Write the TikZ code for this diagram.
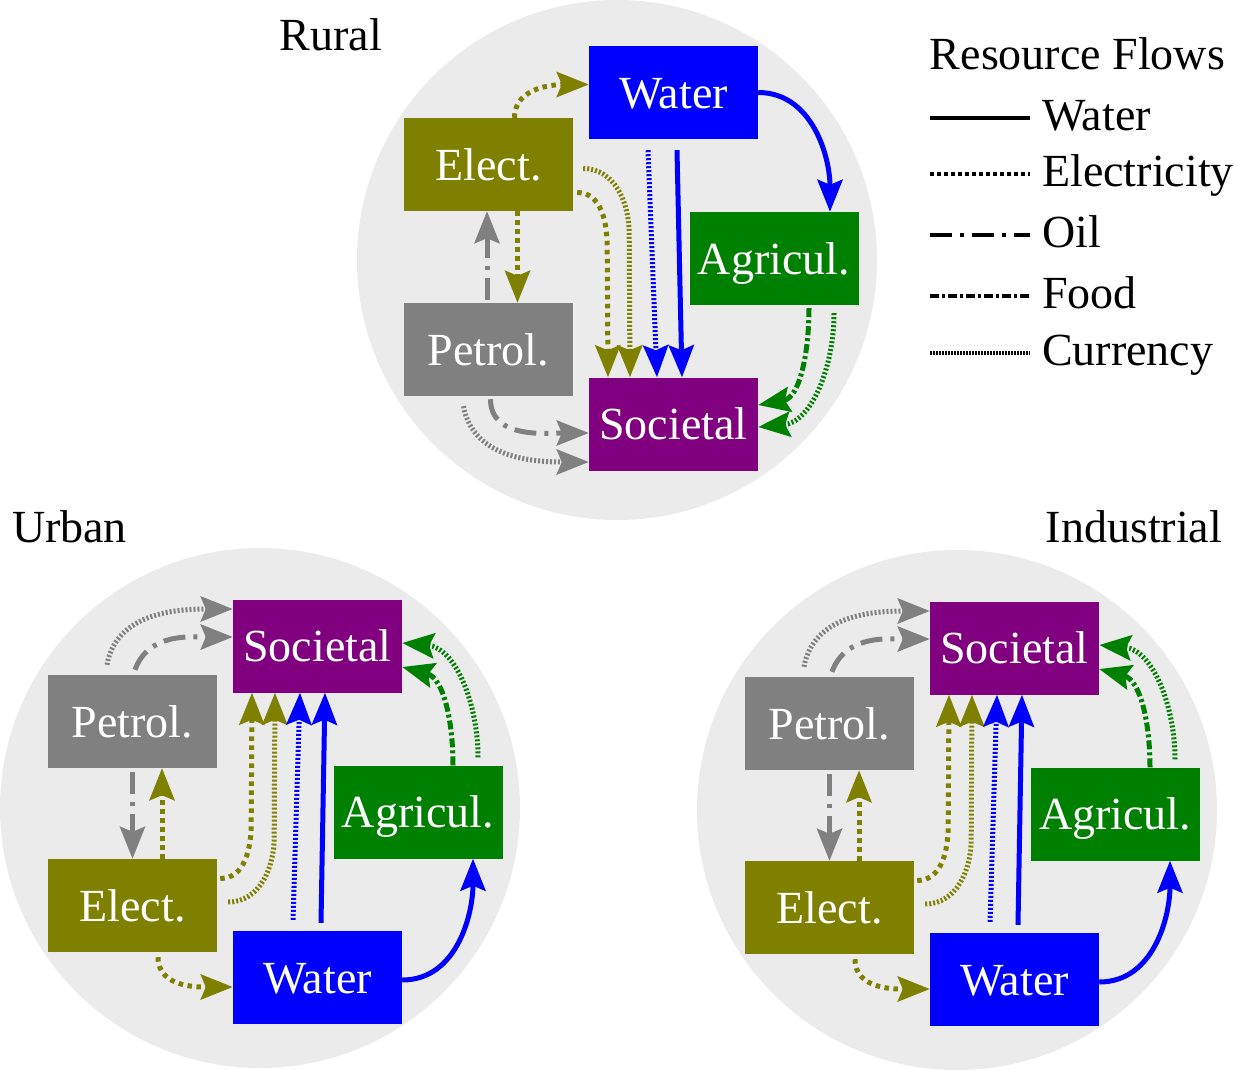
\documentclass[tikz,border=0pt]{standalone}
\usepackage{fontspec}
\setmainfont{LiberationSerif}[Extension=.ttf, UprightFont=*-Regular]
\usetikzlibrary{arrows.meta,calc}
\definecolor{bgc}{RGB}{235,235,235}
\definecolor{cwater}{RGB}{0,0,255}
\definecolor{celec}{RGB}{128,128,0}
\definecolor{cagri}{RGB}{0,128,0}
\definecolor{cpet}{RGB}{128,128,128}
\definecolor{csoc}{RGB}{128,0,128}
\tikzset{
  box/.style={rectangle, minimum width=169pt, minimum height=93pt, inner sep=0pt,
    text=white, font=\fontsize{46}{55}\selectfont, text height=31pt, text depth=0pt},
  lbl/.style={font=\fontsize{46}{55}\selectfont, inner sep=0pt},
  bgcirc/.style={circle, fill=bgc, minimum size=520pt, inner sep=0pt},
  flowtip/.style={-{Stealth[length=32pt,width=25pt,inset=5pt]}},
  pwater/.style={line width=5pt},
  pelec/.style={line width=5pt, dash pattern=on 4.5pt off 4.5pt},
  poil/.style={line width=5pt, dash pattern=on 22pt off 8pt on 4pt off 8pt},
  pfood/.style={line width=5pt, dash pattern=on 9pt off 3pt on 3pt off 3pt},
  pcur/.style={line width=5pt, dash pattern=on 2pt off 2pt},
}
\newcommand{\bottomcluster}[3]{%
\begin{scope}[shift={(#2,#3)}]
  \node[bgcirc] (#1C) at (260,-808) {};
  \node[box, fill=csoc] (#1S) at (317.5,-646) {Societal};
  \node[box, fill=cpet] (#1P) at (132.5,-721.5) {Petrol.};
  \node[box, fill=celec] (#1E) at (132.5,-905.5) {Elect.};
  \node[box, fill=cagri] (#1A) at (418,-812) {Agricul.};
  \node[box, fill=cwater] (#1W) at (317.5,-977.5) {Water};
  \draw[pcur, cpet, flowtip] ([xshift=-25.5,yshift=10]#1P.north) to[out=80,in=180] ([yshift=37]#1S.west);
  \draw[poil, cpet, flowtip] ([xshift=2.5,yshift=5]#1P.north) to[out=70,in=180] ([yshift=9]#1S.west);
  \draw[poil, cpet, flowtip] ([yshift=-4]#1P.south) -- (#1E.north);
  \draw[pelec, celec, flowtip] ([xshift=29.5]#1E.north) -- ([xshift=29.5]#1P.south);
  \draw[pelec, celec, flowtip] ([xshift=3,yshift=27]#1E.east) to[out=0,in=-90] ++(31,55) -- ([xshift=-65.5]#1S.south);
  \draw[pcur, celec, flowtip] ([xshift=11,yshift=3.5]#1E.east) to[out=0,in=-90] ++(46,65) -- ([xshift=-42.5]#1S.south);
  \draw[pcur, cwater, flowtip] ([xshift=-24.5,yshift=11]#1W.north) -- ([xshift=-17.5]#1S.south);
  \draw[pwater, cwater, flowtip] ([xshift=3.5,yshift=8]#1W.north) -- ([xshift=7.5]#1S.south);
  \draw[pelec, celec, flowtip] ([xshift=25.5,yshift=-5]#1E.south) to[out=-90,in=180] ([yshift=-9.5]#1W.west);
  \draw[pwater, cwater, flowtip] ([yshift=-2.5]#1W.east) to[out=0,in=-90] ([xshift=55]#1A.south);
  \draw[pfood, cagri, flowtip] ([xshift=35]#1A.north) to[out=90,in=-15] ([yshift=-21]#1S.east);
  \draw[pcur, cagri, flowtip] ([xshift=60,yshift=8]#1A.north) to[out=90,in=-5] ([yshift=3]#1S.east);
\end{scope}}
\begin{document}
\begin{tikzpicture}[x=1pt,y=1pt]
\useasboundingbox (0,0) rectangle (1235,-1069);
% ---------- Rural ----------
\node[bgcirc] (rC) at (617,-260) {};
\node[box, fill=cwater] (rW) at (673.5,-92.5) {Water};
\node[box, fill=celec] (rE) at (488.5,-164.5) {Elect.};
\node[box, fill=cagri] (rA) at (774,-258.5) {Agricul.};
\node[box, fill=cpet] (rP) at (488.5,-349.5) {Petrol.};
\node[box, fill=csoc] (rS) at (673.5,-424) {Societal};
\draw[pelec, celec, flowtip] ([xshift=26]rE.north) to[out=90,in=180] ([yshift=8]rW.west);
\draw[pwater, cwater, flowtip] (rW.east) to[out=0,in=90] ([xshift=56]rA.north);
\draw[pcur, cwater, flowtip] ([xshift=-25.5,yshift=-11]rW.south) -- ([xshift=-16.5]rS.north);
\draw[pwater, cwater, flowtip] ([xshift=3.5,yshift=-11]rW.south) -- ([xshift=8.5]rS.north);
\draw[pelec, celec, flowtip] ([xshift=4,yshift=-28]rE.east) to[out=0,in=90] ++(30,-55) -- ([xshift=-65.5]rS.north);
\draw[pcur, celec, flowtip] ([xshift=10,yshift=-4]rE.east) to[out=0,in=90] ++(46,-65) -- ([xshift=-43.5]rS.north);
\draw[pelec, celec, flowtip] ([xshift=29]rE.south) -- ([xshift=29]rP.north);
\draw[poil, cpet, flowtip] ([xshift=-1.5,yshift=3]rP.north) -- ([xshift=-1.5]rE.south);
\draw[poil, cpet, flowtip] ([xshift=2,yshift=-3]rP.south) to[out=-90,in=180] ([yshift=-9]rS.west);
\draw[pcur, cpet, flowtip] ([xshift=-25,yshift=-10]rP.south) to[out=-80,in=180] ([yshift=-38]rS.west);
\draw[pfood, cagri, flowtip] ([xshift=35,yshift=-3]rA.south) to[out=-90,in=10] ([yshift=19]rS.east);
\draw[pcur, cagri, flowtip] ([xshift=60,yshift=-8]rA.south) to[out=-90,in=5] ([yshift=-3]rS.east);
% ---------- Urban & Industrial ----------
\bottomcluster{u}{0}{0}
\bottomcluster{i}{697}{-2}
% ---------- Labels ----------
\node[lbl, anchor=base] (lrural) at (331,-50) {Rural};
\node[lbl, anchor=base] (lurban) at (69.5,-542) {Urban};
\node[lbl, anchor=base] (lind) at (1134,-542) {Industrial};
% ---------- Legend ----------
\node[lbl, anchor=base] (legtitle) at (1077.5,-69) {Resource Flows};
\draw[pwater, line width=4.5pt] (930,-118) -- (1030,-118);
\node[lbl, anchor=base west] (lgw) at (1042,-130) {Water};
\draw[pelec, line width=3.5pt, dash pattern=on 3.5pt off 3.5pt] (930,-174) -- (1030,-174);
\node[lbl, anchor=base west] (lge) at (1042,-186) {Electricity};
\draw[poil, line width=4pt] (930,-235) -- (1030,-235);
\node[lbl, anchor=base west] (lgo) at (1042,-247) {Oil};
\draw[pfood, line width=4pt] (930,-296) -- (1030,-296);
\node[lbl, anchor=base west] (lgf) at (1042,-308) {Food};
\draw[pcur, line width=4pt, dash pattern=on 1.5pt off 1.5pt] (930,-353) -- (1030,-353);
\node[lbl, anchor=base west] (lgc) at (1042,-365) {Currency};
\end{tikzpicture}
\end{document}
